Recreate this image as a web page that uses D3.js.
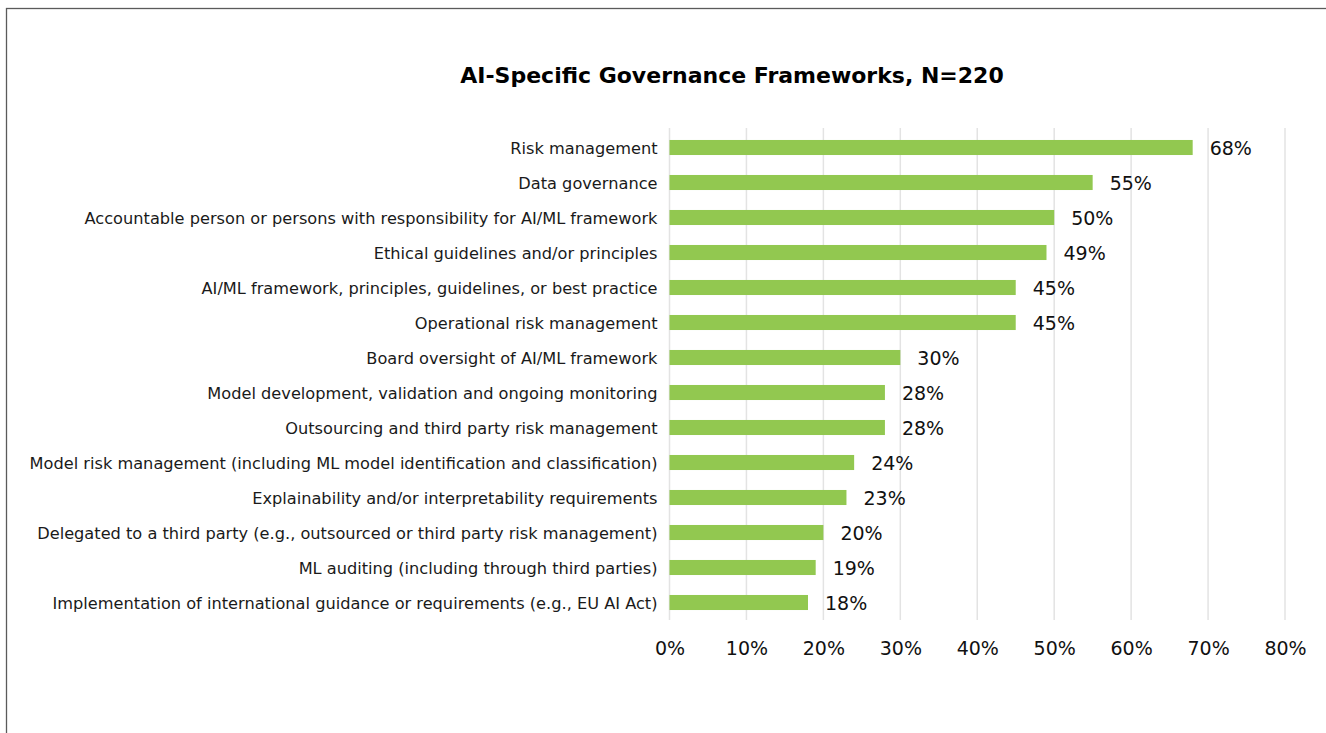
<!DOCTYPE html>
<html>
<head>
<meta charset="utf-8">
<script src="https://cdn.jsdelivr.net/npm/d3@7/dist/d3.min.js"></script>
<style>
  html, body { margin: 0; padding: 0; background: #fff; }
  svg { display: block; }
  text { font-family: "DejaVu Sans", "Noto Sans", sans-serif; }
</style>
</head>
<body>
<svg id="chart" width="1326" height="733"></svg>
<script>
// Survey responses, top to bottom
const categories = [
  "Risk management",
  "Data governance",
  "Accountable person or persons with responsibility for AI/ML framework",
  "Ethical guidelines and/or principles",
  "AI/ML framework, principles, guidelines, or best practice",
  "Operational risk management",
  "Board oversight of AI/ML framework",
  "Model development, validation and ongoing monitoring",
  "Outsourcing and third party risk management",
  "Model risk management (including ML model identification and classification)",
  "Explainability and/or interpretability requirements",
  "Delegated to a third party (e.g., outsourced or third party risk management)",
  "ML auditing (including through third parties)",
  "Implementation of international guidance or requirements (e.g., EU AI Act)"
];
const shares = [68, 55, 50, 49, 45, 45, 30, 28, 28, 24, 23, 20, 19, 18];
const xTicks = [0, 10, 20, 30, 40, 50, 60, 70, 80];
const titleText = "AI-Specific Governance Frameworks, N=220";

const svg = d3.select("#chart");
const W = 1326, H = 733;

// outer frame (runs off the right and bottom edges)
svg.append("rect")
  .attr("x", 6.5).attr("y", 8.5)
  .attr("width", W + 20).attr("height", H + 20)
  .attr("fill", "none")
  .attr("stroke", "#5a5a5a")
  .attr("stroke-width", 1.3);

const plot = { left: 669.5, right: 1285, top: 130, bottom: 620 };

const x = d3.scaleLinear().domain([0, 80]).range([plot.left, plot.right]);
const y = d3.scaleBand().domain(categories).range([plot.top, plot.bottom]).paddingInner(0.57).paddingOuter(0.285);

// title
svg.append("text")
  .attr("x", 732).attr("y", 83)
  .attr("text-anchor", "middle")
  .attr("font-size", 22)
  .attr("font-weight", 700)
  .attr("fill", "#000")
  .text(titleText);

// vertical gridlines
svg.append("g")
  .selectAll("line")
  .data(xTicks)
  .join("line")
  .attr("x1", d => x(d)).attr("x2", d => x(d))
  .attr("y1", plot.top - 2).attr("y2", plot.bottom)
  .attr("stroke", "#e3e3e3")
  .attr("stroke-width", 1.5);

// x axis labels
const xAxis = d3.axisBottom(x).tickValues(xTicks).tickFormat(d => d + "%").tickSize(0).tickPadding(0);
const gx = svg.append("g")
  .attr("transform", `translate(0, ${plot.bottom + 21})`)
  .call(xAxis);
gx.select(".domain").remove();
gx.selectAll("text")
  .attr("font-size", 19)
  .attr("fill", "#111")
  .attr("font-family", "\"DejaVu Sans\", sans-serif");

// bars
svg.append("g")
  .selectAll("rect")
  .data(shares)
  .join("rect")
  .attr("x", x(0))
  .attr("y", (d, i) => y(categories[i]))
  .attr("width", d => x(d) - x(0))
  .attr("height", y.bandwidth())
  .attr("fill", "#92c850");

// category labels
svg.append("g")
  .selectAll("text")
  .data(categories)
  .join("text")
  .attr("x", x(0) - 12)
  .attr("y", d => y(d) + y.bandwidth() / 2)
  .attr("dy", "0.4em")
  .attr("text-anchor", "end")
  .attr("font-size", 16.2)
  .attr("fill", "#1a1a1a")
  .text(d => d);

// value labels
svg.append("g")
  .selectAll("text")
  .data(shares)
  .join("text")
  .attr("x", d => x(d) + 17)
  .attr("y", (d, i) => y(categories[i]) + y.bandwidth() / 2)
  .attr("dy", "0.37em")
  .attr("font-size", 19)
  .attr("fill", "#111")
  .text(d => d + "%");
</script>
</body>
</html>
